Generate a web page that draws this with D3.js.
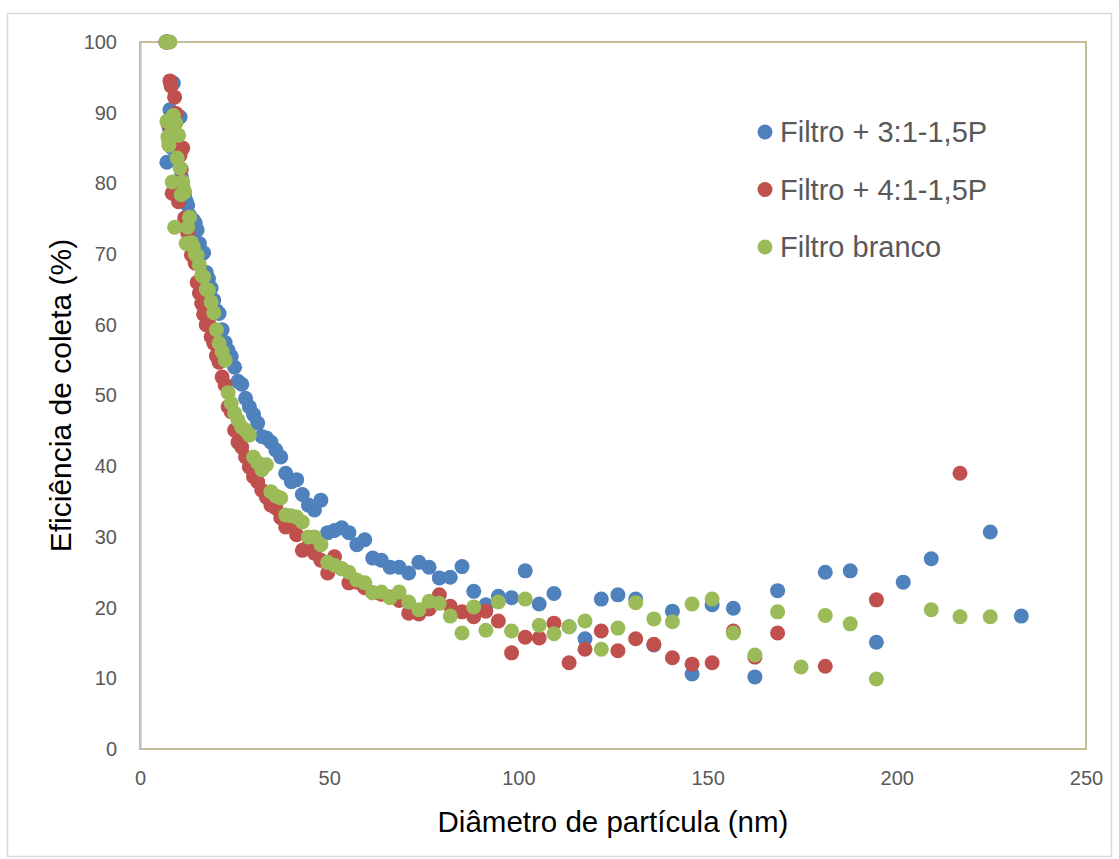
<!DOCTYPE html>
<html>
<head>
<meta charset="utf-8">
<title>Eficiência de coleta</title>
<script src="https://d3js.org/d3.v7.min.js"></script>
<style>
  * { margin: 0; padding: 0; }
  body { background: #fff; }
  #chart { width: 1119px; height: 859px; }
  text { font-family: "Liberation Sans", Arial, sans-serif; }
</style>
</head>
<body>
<div id="chart"></div>
<script>
// diâmetros (nm) dos canais
const diameters = [
  6.85, 7.10, 7.37, 7.64, 7.91, 8.20, 8.51, 8.82, 9.14, 9.47,
  9.82, 10.2, 10.6, 10.9, 11.3, 11.8, 12.2, 12.6, 13.1, 13.6,
  14.1, 14.6, 15.1, 15.7, 16.3, 16.8, 17.5, 18.1, 18.8, 19.5,
  20.2, 20.9, 21.7, 22.5, 23.3, 24.1, 25.0, 25.9, 26.9, 27.9,
  28.9, 30.0, 31.1, 32.2, 33.4, 34.6, 35.9, 37.2, 38.5, 40.0,
  41.4, 42.9, 44.5, 46.1, 47.8, 49.6, 51.4, 53.3, 55.2, 57.3,
  59.4, 61.5, 63.8, 66.1, 68.5, 71.0, 73.7, 76.4, 79.1, 82.0,
  85.1, 88.2, 91.4, 94.7, 98.2, 101.8, 105.5, 109.4, 113.4, 117.6,
  121.9, 126.3, 131.0, 135.8, 140.7, 145.9, 151.2, 156.8, 162.5, 168.5,
  174.7, 181.1, 187.7, 194.6, 201.7, 209.1, 216.7, 224.7, 232.9
];

// Filtro + 3:1-1,5P
const filtro31 = [
  100, 83.0, 100, 88.0, 90.4, 86.5, 85.0, 94.2, 87.0, 85.5,
  84.0, 83.8, 89.4, 81.0, 79.5, 78.5, 77.5, 76.9, 75.5, 74.0,
  74.8, 74.4, 73.4, 71.5, 70.0, 70.2, 67.4, 66.5, 65.2, 63.5,
  62.0, 61.6, 59.3, 57.5, 56.4, 55.5, 54.0, 52.0, 51.6, 49.6,
  48.4, 47.3, 46.1, 44.2, 44.0, 43.4, 42.3, 41.3, 39.0, 37.8,
  38.1, 36.0, 34.5, 33.8, 35.2, 30.6, 30.9, 31.3, 30.6, 28.9,
  29.6, 27.0, 26.7, 25.7, 25.7, 24.9, 26.4, 25.7, 24.2, 24.3,
  25.8, 22.3, 20.4, 21.6, 21.4, 25.2, 20.5, 22.0, 17.3, 15.6,
  21.2, 21.8, 21.2, 14.7, 19.5, 10.6, 20.4, 19.9, 10.2, 22.4,
  null, 25.0, 25.2, 15.1, 23.6, 26.9, null, 30.7, 18.8
];

// Filtro + 4:1-1,5P
const filtro41 = [
  100, 100, 88.5, 86.0, 94.5, 93.8, 78.6, 88.0, 92.2, 89.9,
  86.5, 77.4, 84.0, 82.0, 85.0, 75.1, 74.0, 73.0, 71.5, 69.9,
  69.6, 68.7, 66.0, 64.5, 63.0, 61.5, 60.0, 60.3, 58.3, 57.4,
  55.6, 54.7, 52.6, 51.5, 48.4, 47.7, 45.1, 43.4, 42.7, 41.3,
  39.9, 38.5, 37.8, 36.6, 35.6, 34.5, 34.1, 32.7, 31.4, 31.8,
  30.3, 28.1, 28.7, 27.7, 26.7, 24.9, 27.2, 25.5, 23.5, 23.6,
  22.8, 22.1, 21.9, 21.5, 21.0, 19.2, 19.1, 19.8, 21.8, 20.2,
  19.4, 18.7, 19.5, 18.1, 13.6, 15.8, 15.7, 17.8, 12.2, 14.1,
  16.7, 13.9, 15.6, 14.8, 12.9, 12.0, 12.2, 16.7, 13.0, 16.4,
  null, 11.7, null, 21.1, null, null, 39.0, null, null
];

// Filtro branco
const filtroBranco = [
  100, 88.8, 86.6, 85.4, 100, 87.0, 80.2, 89.6, 73.8, 88.5,
  83.6, 86.8, 82.2, 78.4, 80.2, 78.8, 71.5, 73.8, 75.2, 71.6,
  71.0, 70.0, 69.8, 68.5, 67.0, 66.8, 65.0, 64.9, 63.2, 61.7,
  59.3, 57.4, 56.2, 55.0, 50.4, 48.9, 47.5, 46.5, 45.5, 45.1,
  44.4, 41.3, 40.5, 39.5, 40.2, 36.4, 35.8, 35.5, 33.1, 33.0,
  32.8, 32.1, 30.0, 30.0, 28.9, 26.4, 26.0, 25.5, 25.0, 23.9,
  23.5, 22.1, 22.2, 21.4, 22.2, 20.8, 19.7, 20.9, 20.6, 18.8,
  16.4, 20.1, 16.8, 20.8, 16.7, 21.2, 17.5, 16.3, 17.3, 18.1,
  14.1, 17.1, 20.7, 18.4, 18.0, 20.5, 21.2, 16.4, 13.3, 19.4,
  11.6, 18.9, 17.7, 9.9, null, 19.7, 18.7, 18.7, null
];

const seriesNames = ["Filtro + 3:1-1,5P", "Filtro + 4:1-1,5P", "Filtro branco"];
const seriesValues = [filtro31, filtro41, filtroBranco];
const seriesColors = ["#4f81bd", "#c0504d", "#9bbb59"];
const xTicks = [0, 50, 100, 150, 200, 250];
const yTicks = [0, 10, 20, 30, 40, 50, 60, 70, 80, 90, 100];

const width = 1119, height = 859;
const margin = { top: 42, right: 33, bottom: 110, left: 140 };
const markerR = 7.5;

const svg = d3.select("#chart").append("svg")
  .attr("width", width)
  .attr("height", height);

// moldura externa do gráfico
svg.append("rect")
  .attr("x", 7.5).attr("y", 13.5)
  .attr("width", 1104).attr("height", 843)
  .attr("fill", "#fff")
  .attr("stroke", "#d9d9d9")
  .attr("stroke-width", 1.5);

const x = d3.scaleLinear().domain([0, 250]).range([margin.left, width - margin.right]);
const y = d3.scaleLinear().domain([0, 100]).range([height - margin.bottom, margin.top]);

// área de plotagem
svg.append("rect")
  .attr("x", x(0)).attr("y", y(100))
  .attr("width", x(250) - x(0)).attr("height", y(0) - y(100))
  .attr("fill", "none")
  .attr("stroke", "#c4bd97")
  .attr("stroke-width", 2);

// eixo Y
const yAxis = svg.append("g")
  .attr("transform", `translate(${x(0)},0)`)
  .call(d3.axisLeft(y).tickValues(yTicks).tickSize(0).tickPadding(23));
yAxis.select(".domain").attr("stroke", "#bfbfbf").attr("stroke-width", 2);
yAxis.selectAll("text")
  .style("font-size", "20px")
  .attr("fill", "#595959");

// eixo X
const xAxis = svg.append("g")
  .attr("transform", `translate(0,${y(0)})`)
  .call(d3.axisBottom(x).tickValues(xTicks).tickSize(0).tickPadding(22));
xAxis.select(".domain").remove();
xAxis.selectAll("text")
  .style("font-size", "20px")
  .attr("fill", "#595959");

// pontos
seriesValues.forEach((vals, s) => {
  const pts = diameters.map((d, i) => ({ d: d, v: vals[i] })).filter(p => p.v !== null);
  svg.append("g")
    .selectAll("circle")
    .data(pts)
    .join("circle")
    .attr("cx", p => x(p.d))
    .attr("cy", p => y(p.v))
    .attr("r", markerR)
    .attr("fill", seriesColors[s]);
});

// títulos dos eixos
svg.append("text")
  .attr("x", 613)
  .attr("y", 832)
  .attr("text-anchor", "middle")
  .style("font-size", "29.5px")
  .attr("fill", "#000")
  .text("Diâmetro de partícula (nm)");

svg.append("text")
  .attr("transform", `translate(71,${(y(0) + y(100)) / 2}) rotate(-90)`)
  .attr("text-anchor", "middle")
  .style("font-size", "30px")
  .attr("fill", "#000")
  .text("Eficiência de coleta (%)");

// legenda
const legend = svg.append("g").attr("transform", "translate(765,132)");
seriesNames.forEach((name, i) => {
  const g = legend.append("g").attr("transform", `translate(0,${i * 57.5})`);
  g.append("circle").attr("r", 7.5).attr("fill", seriesColors[i]);
  g.append("text")
    .attr("x", 15)
    .attr("dy", "0.36em")
    .style("font-size", "29px")
    .attr("fill", "#595959")
    .text(name);
});
</script>
</body>
</html>
